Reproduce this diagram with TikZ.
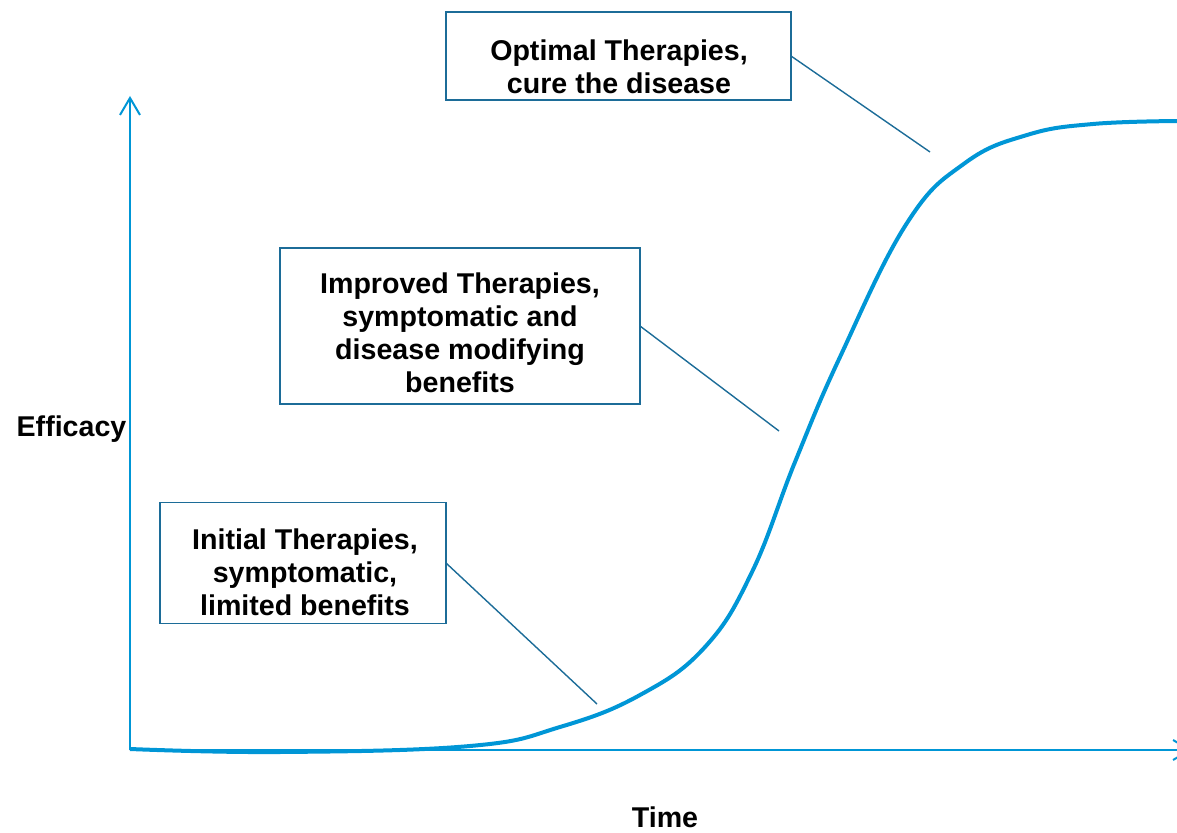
\documentclass[tikz,border=0pt]{standalone}
\usepackage{fontspec}
\setmainfont{Liberation Sans}
\usetikzlibrary{arrows.meta}
\definecolor{axisblue}{RGB}{0,150,214}
\definecolor{boxblue}{RGB}{28,108,152}
\begin{document}
\begin{tikzpicture}[x=0.5pt,y=-0.5pt,
    lbl/.style={font=\fontsize{14.3}{16.5}\selectfont\bfseries, align=center, inner sep=0pt},
    stagebox/.style={draw=boxblue, line width=0.9pt, inner sep=0pt, outer sep=0pt},
    leader/.style={draw=boxblue, line width=0.7pt},
    axis/.style={draw=axisblue, line width=1pt, -{Straight Barb[length=8.5pt,width=10pt]}}]

    \useasboundingbox (0,0) rectangle (1177,833);

    %draw axis
    \coordinate (origin) at (130,750);
    \coordinate (ytip) at (130,96);
    \coordinate (xtip) at (1192,750);
    \draw[axis] (origin) -- (ytip);
    \draw[axis] (origin) -- (xtip);

    %draw axis lables
    \node[lbl, anchor=base] (efficacy) at (71.5,437) {Efficacy};
    \node[lbl, anchor=base] (time) at (665,827) {Time};

    %the efficacy curve
    \draw[axisblue, line width=2pt] plot[smooth, tension=0.7] coordinates {
        (130,749) (280,752) (470,746) (560,727) (640,695) (705,647)
        (752,572) (795,462) (840,357) (907,223) (965,163) (1027,135)
        (1093,124) (1180,121)};

    %boxes for the stages
    \node[stagebox, minimum width=143pt, minimum height=60.5pt] (ini) at (303,563) {};
    \node[stagebox, minimum width=180pt, minimum height=78pt] (imp) at (460,326) {};
    \node[stagebox, minimum width=172.5pt, minimum height=44pt] (opt) at (618.5,56) {};

    %texts inside the boxes
    \node[lbl, anchor=north] (iniText) at (305,528) {Initial Therapies,\\symptomatic,\\limited benefits};
    \node[lbl, anchor=north] (impText) at (460,272) {Improved Therapies,\\symptomatic and\\disease modifying\\benefits};
    \node[lbl, anchor=north] (optText) at (619,39) {Optimal Therapies,\\cure the disease};

    %lines from the boxes to the curve
    \coordinate (iniEnd) at (597,704);
    \coordinate (impEnd) at (779,431);
    \coordinate (optEnd) at (930,152);
    \draw[leader] (ini.east) -- (iniEnd);
    \draw[leader] (imp.east) -- (impEnd);
    \draw[leader] (opt.east) -- (optEnd);

\end{tikzpicture}
\end{document}
